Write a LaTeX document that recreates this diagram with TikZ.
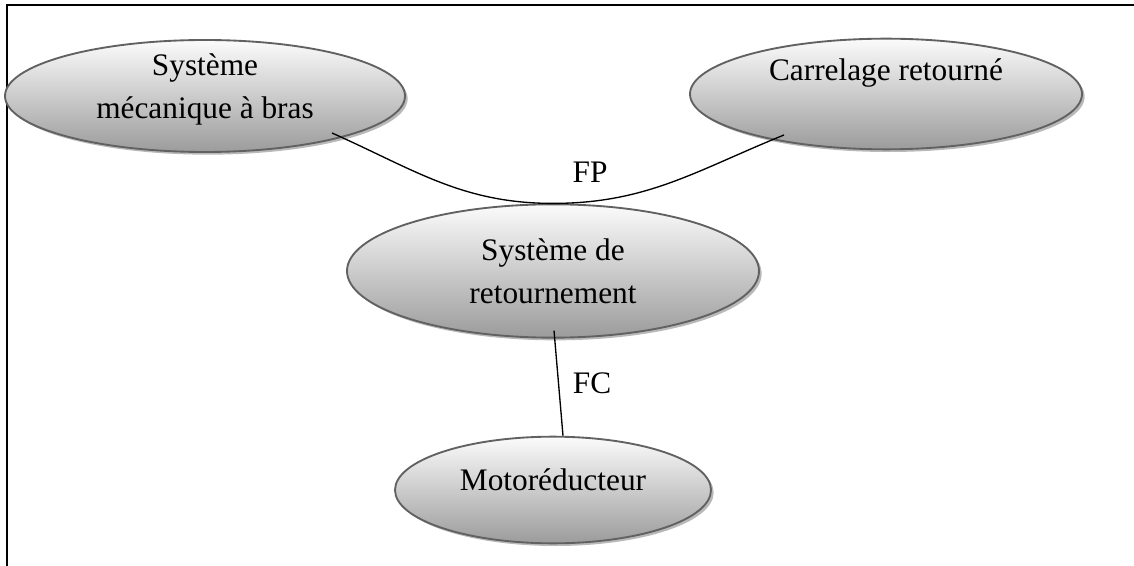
\documentclass[tikz,border=0pt]{standalone}
\usepackage{fontspec}
\setmainfont{Liberation Serif}
\usetikzlibrary{shapes.geometric,shadows,calc}

\tikzset{bulle/.style = {shape = ellipse,
                         draw = black!62,
                         line width = 1.4pt,
                         top color = gray!3,
                         bottom color = gray!78,
                         inner sep = 0pt,
                         drop shadow = {shadow xshift = 2pt,
                                        shadow yshift = -2pt,
                                        fill = gray!55,
                                        opacity = 1}},
         txt/.style = {align = center,
                       inner sep = 0pt,
                       font = \fontsize{23.5}{32}\selectfont},
         lien/.style = {draw = black,
                        line width = 1pt}}

\begin{document}
\begin{tikzpicture}[x=0.75pt, y=-0.75pt]
		\useasboundingbox (0,0) rectangle (1134,566);
		% cadre
		\draw[line width=1.5pt] (1134,5) -- (7,5) -- (7,566);
		% fonctions
		\node[bulle, minimum width=300pt, minimum height=84pt,
		      label={[txt, yshift=5pt]center:Système\\mécanique à bras}] (mec) at (205,96) {};
		\node[bulle, minimum width=294pt, minimum height=83pt,
		      label={[txt, yshift=16pt]center:Carrelage retourné}] (car) at (886,94) {};
		\node[bulle, minimum width=309pt, minimum height=100pt,
		      label={[txt]center:Système de\\retournement}] (ret) at (553,271) {};
		\node[bulle, minimum width=237pt, minimum height=80pt,
		      label={[txt, yshift=8pt]center:Motoréducteur}] (mot) at (553,490) {};
		\coordinate (p1) at ($(mec.center)+(127,37)$);
		\coordinate (p2) at ($(car.center)+(-102,41)$);
		\coordinate (p3) at ($(ret.south)+(1,-8)$);
		\coordinate (p4) at ($(mot.north)+(10,0)$);
		\draw[lien] (p1) to[out=-24, in=180] (ret.north) to[out=0, in=-158] (p2);
		\draw[lien] (p3) -- (p4);
		\node[txt] (fp) at (590,172) {FP};
		\node[txt] (fc) at (592,383) {FC};
	\end{tikzpicture}
\end{document}
